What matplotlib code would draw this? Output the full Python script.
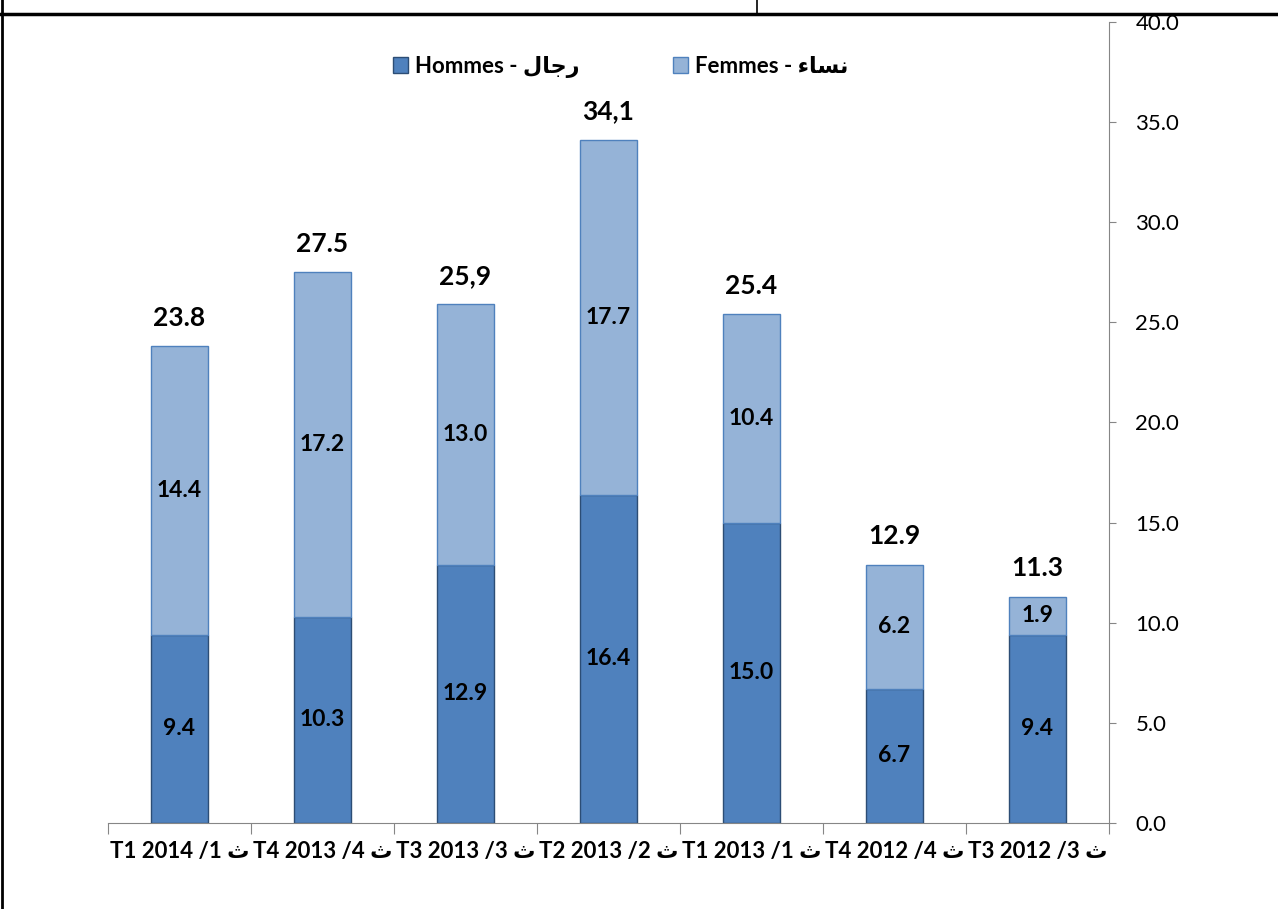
import matplotlib
matplotlib.use("Agg")
import matplotlib.pyplot as plt
from matplotlib.lines import Line2D
import numpy as np

plt.rcParams['font.family'] = ['Lato', 'DejaVu Sans']

categories = ["T1 2014 /1 ث", "T4 2013 /4 ث", "T3 2013 /3 ث", "T2 2013 /2 ث",
              "T1 2013 /1 ث", "T4 2012 /4 ث", "T3 2012 /3 ث"]
hommes = [9.4, 10.3, 12.9, 16.4, 15.0, 6.7, 9.4]
femmes = [14.4, 17.2, 13.0, 17.7, 10.4, 6.2, 1.9]
total_labels = ["23.8", "27.5", "25,9", "34,1", "25.4", "12.9", "11.3"]
yticks = [0, 5, 10, 15, 20, 25, 30, 35, 40]
legend_hommes = "Hommes - \uFEDD\uFE8E\uFE9F\uFEAD"
legend_femmes = "Femmes - \uFE80\uFE8E\uFEB4\uFEE7"

fig = plt.figure(figsize=(12.78, 9.09), dpi=100)
ax = fig.add_axes([108/1278, 1 - 823/909, (1109-108)/1278, (823-22)/909])

x = np.arange(len(categories))
c_h, e_h = "#4F81BD", "#2C4D75"
c_f, e_f = "#95B3D7", "#4F81BD"
b1 = ax.bar(x, hommes, width=0.4, color=c_h, edgecolor=e_h, linewidth=1.0, label=legend_hommes)
b2 = ax.bar(x, femmes, width=0.4, bottom=hommes, color=c_f, edgecolor=e_f, linewidth=1.0, label=legend_femmes)

for i in range(len(x)):
    ax.text(x[i], hommes[i] / 2, f"{hommes[i]:.1f}", ha='center', va='center',
            fontsize=16.5, fontweight='bold', color='black')
    ax.text(x[i], hommes[i] + femmes[i] / 2, f"{femmes[i]:.1f}", ha='center', va='center',
            fontsize=16.5, fontweight='bold', color='black')
    ax.annotate(total_labels[i], (x[i], hommes[i] + femmes[i]), xytext=(0, 12),
                textcoords='offset points', ha='center', va='bottom',
                fontsize=19, fontweight='bold', color='black')

ax.set_xlim(-0.5, len(x) - 0.5)
ax.set_ylim(0, 40)
ax.yaxis.tick_right()
ax.set_yticks(yticks)
ax.set_yticklabels([f"{v:.1f}" for v in yticks], fontsize=16)
ax.tick_params(axis='y', direction='out', length=5, color='#868686', pad=14)

ax.set_xticks(np.arange(len(x) + 1) - 0.5)
ax.set_xticklabels([])
ax.set_xticks(x, minor=True)
ax.set_xticklabels(categories, minor=True, fontsize=16, fontweight='bold')
ax.tick_params(axis='x', which='major', direction='out', length=8, color='#868686')
ax.tick_params(axis='x', which='minor', length=0, pad=13)

for s in ['top', 'left']:
    ax.spines[s].set_visible(False)
ax.spines['right'].set_color('#868686')
ax.spines['bottom'].set_color('#868686')

leg = ax.legend(handles=[b1, b2], ncol=2, loc='center', bbox_to_anchor=(0.512, 1 - (67-22)/(823-22)),
                frameon=False, prop={'weight': 'bold', 'size': 16},
                handlelength=0.7, handleheight=0.7, handletextpad=0.3, columnspacing=4.2)

# table-like border lines
fig.add_artist(Line2D([0, 1], [1 - 14/909, 1 - 14/909], color='black', linewidth=2.5, transform=fig.transFigure))
fig.add_artist(Line2D([1.5/1278, 1.5/1278], [0, 1], color='black', linewidth=2, transform=fig.transFigure))
fig.add_artist(Line2D([757/1278, 757/1278], [1 - 14/909, 1], color='black', linewidth=1.2, transform=fig.transFigure))

fig.savefig("out.png", dpi=100)
